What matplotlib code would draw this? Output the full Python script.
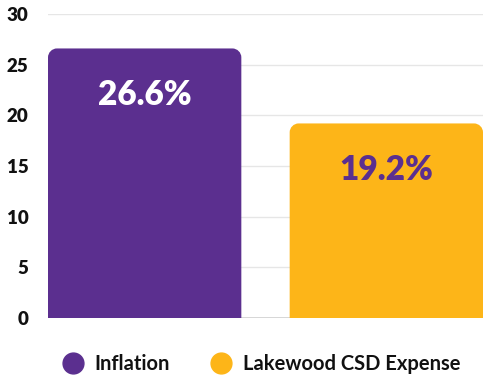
import matplotlib
matplotlib.use("Agg")
import matplotlib.pyplot as plt
from matplotlib.path import Path
from matplotlib.patches import PathPatch
from matplotlib.lines import Line2D

categories = ["Inflation", "Lakewood CSD Expense"]
values = [26.6, 19.2]
labels = ["26.6%", "19.2%"]
colors = ["#5B2F8F", "#FDB518"]
label_colors = ["#FFFFFF", "#5B2F8F"]
yticks = [0, 5, 10, 15, 20, 25, 30]

plt.rcParams['font.family'] = ['Lato', 'DejaVu Sans']
plt.rcParams['font.weight'] = 'bold'

W, H = 483, 377
fig = plt.figure(figsize=(W/100, H/100), dpi=100)
ax = fig.add_axes([48/W, (H-318)/H, (W-48)/W, 304/H])
ax.set_xlim(-0.4, 1.4)
ax.set_ylim(0, 30)

for s in ax.spines.values():
    s.set_visible(False)
ax.set_yticks(yticks)
ax.set_yticklabels([str(t) for t in yticks], fontsize=13.5, fontweight='heavy', color='#111111')
ax.tick_params(axis='y', length=0, pad=14)
ax.set_xticks([])
ax.grid(axis='y', color='#e6e6e6', linewidth=1)
ax.set_axisbelow(True)
ax.axhline(0, color='#d0d0d0', linewidth=1.2, zorder=1)

bars = ax.bar(range(len(values)), values, width=0.8, color=colors, zorder=2)

# replace with rounded-top bars
px_per_x = (W - 48) / 1.8
px_per_y = 304 / 30
r_px = 9
rx = r_px / px_per_x
ry = r_px / px_per_y
k = 0.5523
for b, c in zip(bars, colors):
    x0 = b.get_x(); x1 = x0 + b.get_width(); y0 = 0; y1 = b.get_height()
    verts = [(x0, y0), (x0, y1 - ry),
             (x0, y1 - ry + k*ry), (x0 + rx - k*rx, y1), (x0 + rx, y1),
             (x1 - rx, y1),
             (x1 - rx + k*rx, y1), (x1, y1 - ry + k*ry), (x1, y1 - ry),
             (x1, y0), (x0, y0)]
    codes = [Path.MOVETO, Path.LINETO,
             Path.CURVE4, Path.CURVE4, Path.CURVE4,
             Path.LINETO,
             Path.CURVE4, Path.CURVE4, Path.CURVE4,
             Path.LINETO, Path.CLOSEPOLY]
    b.set_visible(False)
    ax.add_patch(PathPatch(Path(verts, codes), facecolor=c, edgecolor='none', zorder=2))

for i, (v, lab, lc) in enumerate(zip(values, labels, label_colors)):
    ax.annotate(lab, (i, v), xytext=(0, -47), textcoords='offset pixels',
                ha='center', va='center', fontsize=24, fontweight='heavy', color=lc, zorder=3)

handles = [Line2D([], [], marker='o', linestyle='none', markersize=15,
                  markerfacecolor=c, markeredgecolor=c) for c in colors]
leg = ax.legend(handles, categories, loc='center', bbox_to_anchor=(0.479, -(364-318)/304),
                ncol=2, frameon=False, handletextpad=0.1, columnspacing=1.5,
                prop={'family': ['Lato', 'DejaVu Sans'], 'weight': 'bold', 'size': 14.5})
for t in leg.get_texts():
    t.set_color('#111111')

fig.savefig("out.png", dpi=100)
